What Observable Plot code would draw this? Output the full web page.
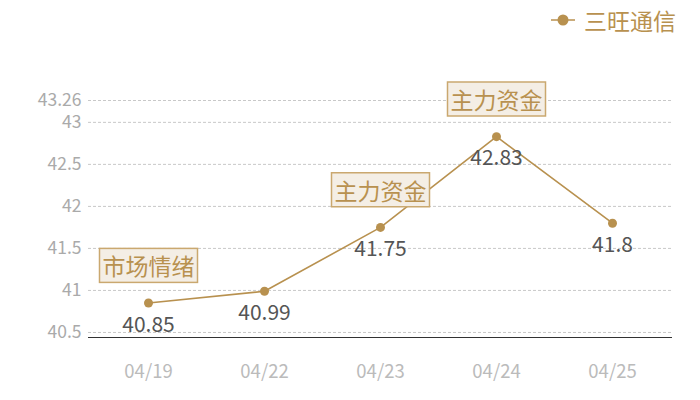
<!DOCTYPE html>
<html><head><meta charset="utf-8">
<script src="https://cdn.jsdelivr.net/npm/d3@7"></script>
<script src="https://cdn.jsdelivr.net/npm/@observablehq/plot@0.6"></script>
<style>
body{margin:0;background:#fff;font-family:"Noto Sans CJK SC","Noto Sans",sans-serif;}
#wrap{position:relative;width:700px;height:400px;}
#legend{position:absolute;top:3px;right:24px;display:flex;align-items:center;font-size:23px;color:#b8914f;line-height:34px;}
#legend svg{margin-right:9px;}
</style>
</head><body>
<div id="wrap">
<div id="legend"><svg width="24" height="12"><line x1="0" y1="6" x2="24" y2="6" stroke="#b8914f" stroke-width="1.5"/><circle cx="12" cy="6" r="5.5" fill="#b8914f"/></svg><span>三旺通信</span></div>
</div>
<script>
const dates = ["04/19","04/22","04/23","04/24","04/25"];
const values = [40.85, 40.99, 41.75, 42.83, 41.8];
const seriesName = "三旺通信";
const yTicks = [40.5, 41, 41.5, 42, 42.5, 43, 43.26];
const annoDates = ["04/19","04/23","04/24"];
const annoTexts = ["市场情绪","主力资金","主力资金"];

const data = dates.map((d,i)=>({date:d, value:values[i]}));
const annos = annoDates.map((d,i)=>({date:d, value:values[dates.indexOf(d)], text:annoTexts[i]}));
const gold = "#b8914f";

const chart = Plot.plot({
  width:700, height:400,
  marginLeft:88, marginRight:28, marginTop:100, marginBottom:63,
  style:{fontFamily:'"Noto Sans CJK SC","Noto Sans",sans-serif', background:"#fff"},
  x:{type:"point", domain:dates, padding:0.5, label:null},
  y:{domain:[40.44, 43.26], label:null},
  marks:[
    Plot.gridY(yTicks,{stroke:"#c8c8c8", strokeOpacity:1, strokeDasharray:"3,2"}),
    Plot.axisY(yTicks,{tickSize:0, tickPadding:7, fontSize:17.5, fill:"#aaa", tickFormat:d=>String(d)}),
    Plot.axisX({tickSize:0, tickPadding:27, fontSize:18.5, fill:"#bbb"}),
    Plot.ruleY([40.44],{stroke:"#333", strokeWidth:1}),
    Plot.line(data,{x:"date", y:"value", stroke:gold, strokeWidth:1.6}),
    Plot.dot(data,{x:"date", y:"value", fill:gold, r:4.5}),
    Plot.text(data,{x:"date", y:"value", text:d=>String(d.value), dy:22, fontSize:21, fill:"#555"}),
    Plot.text(annos,{x:"date", y:"value", text:"text", dy:-35, fontSize:23, fill:gold, className:"anno"})
  ]
});
document.getElementById("wrap").prepend(chart);

// draw boxes behind annotation labels, sized from the rendered text
chart.querySelectorAll("g.anno text").forEach(t=>{
  const b = t.getBBox();
  const tr = t.getAttribute("transform");
  const r = document.createElementNS("http://www.w3.org/2000/svg","rect");
  r.setAttribute("x", b.x-3); r.setAttribute("y", b.y);
  r.setAttribute("width", b.width+6); r.setAttribute("height", b.height);
  r.setAttribute("fill","#f4eee5"); r.setAttribute("stroke","#caa86f"); r.setAttribute("stroke-width","1.5");
  if (tr) r.setAttribute("transform", tr);
  t.parentNode.insertBefore(r, t);
});
</script>
</body></html>
